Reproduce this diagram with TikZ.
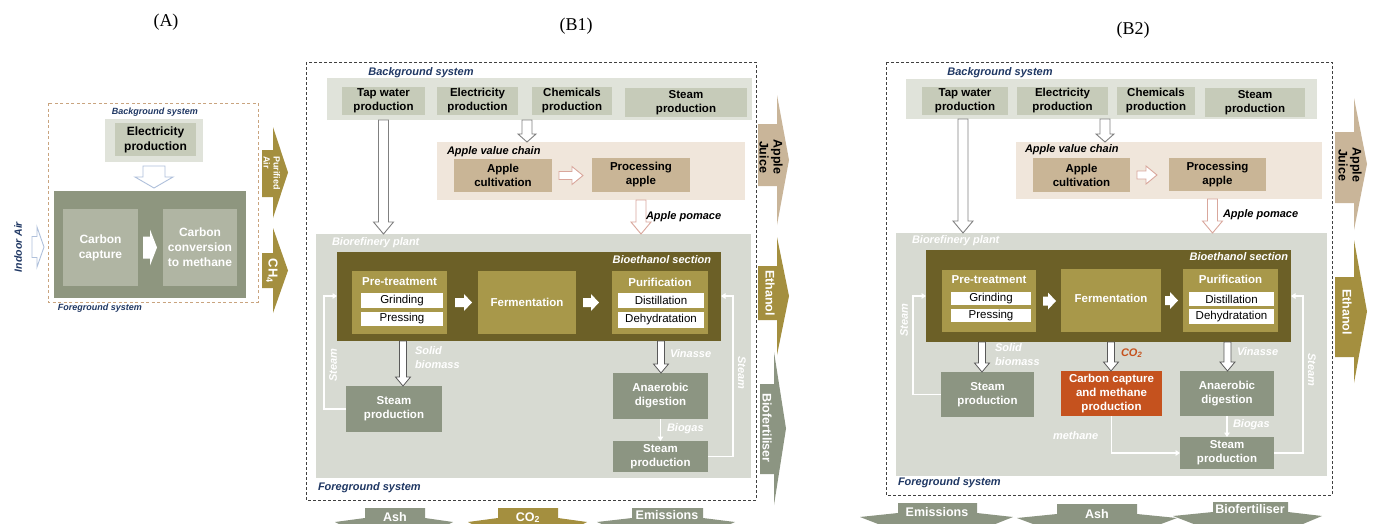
\documentclass[tikz,border=0pt]{standalone}
\usepackage{fontspec}
\setmainfont{Liberation Sans}
\newfontfamily\titlefont{Liberation Serif}
\usetikzlibrary{arrows.meta,calc}

\definecolor{navy}{HTML}{203864}
\definecolor{bgout}{HTML}{E0E3DA}
\definecolor{bgin}{HTML}{C6CBB9}
\definecolor{avc}{HTML}{F0E6DB}
\definecolor{tanc}{HTML}{C9B596}
\definecolor{plantc}{HTML}{D7DAD2}
\definecolor{bioeth}{HTML}{6C6027}
\definecolor{olivec}{HTML}{A8984A}
\definecolor{ggreen}{HTML}{8C9582}
\definecolor{ccap}{HTML}{C5521E}
\definecolor{aolive}{HTML}{A48F3F}
\definecolor{ajuice}{HTML}{C9B599}
\definecolor{fgAc}{HTML}{8E967F}
\definecolor{inA}{HTML}{B0B5A3}
\definecolor{hgray}{HTML}{808080}
\definecolor{hred}{HTML}{D9A79C}
\definecolor{hblue}{HTML}{AFC0DB}
\definecolor{dashA}{HTML}{C9A47F}

\newcommand\bx[7]{\node[#6, minimum width={(#4)-(#2)}, minimum height={(#5)-(#3)}] (#1) at ({((#2)+(#4))/2},{((#3)+(#5))/2}) {#7};}
\newcommand\vdarrow[6]{\path[#1] let \p1=(#2), \p2=(#3) in (\x1-#4,\y1) -- (\x1-#4,\y2+#6) -- (\x1-#5,\y2+#6) -- (\x1,\y2) -- (\x1+#5,\y2+#6) -- (\x1+#4,\y2+#6) -- (\x1+#4,\y1) -- cycle;}
\newcommand\hrarrow[6]{\path[#1] let \p1=(#2), \p2=(#3) in (\x1,\y1+#4) -- (\x2-#6,\y1+#4) -- (\x2-#6,\y1+#5) -- (\x2,\y1) -- (\x2-#6,\y1-#5) -- (\x2-#6,\y1-#4) -- (\x1,\y1-#4) -- cycle;}
\newcommand\rarr[8]{\fill[#1] (#2,#7) -- (#3,#7) -- (#3,#5) -- (#4,{((#5)+(#6))/2}) -- (#3,#6) -- (#3,#8) -- (#2,#8) -- cycle;}
\newcommand\barr[8]{\fill[#1] (#2,#4) -- (#3,#4) -- (#3,#5) -- (#7,#8) -- ({((#2)+(#3))/2},{(#8)+30}) -- (#6,#8) -- (#2,#5) -- cycle;}

\tikzset{
  every node/.style={inner sep=0pt, outer sep=0pt},
  bt/.style={font=\fontsize{11.5}{14}\selectfont\bfseries, align=center},
  btA/.style={font=\fontsize{12}{15}\selectfont\bfseries, align=center},
  bgi/.style={bt, fill=bgin, text=black},
  bgo/.style={fill=bgout},
  tanb/.style={bt, fill=tanc, text=black},
  oliveb/.style={bt, fill=olivec, text=white},
  greenb/.style={bt, fill=ggreen, text=white},
  whb/.style={fill=white, text=black, font=\fontsize{11.5}{13}\selectfont},
  lab/.style={font=\fontsize{11}{14}\selectfont\bfseries\itshape},
  navylab/.style={lab, text=navy},
  whlab/.style={lab, text=white},
  arlab/.style={font=\fontsize{12.5}{14}\selectfont\bfseries, align=center},
  hollowg/.style={draw=hgray, fill=white, line width=0.9pt},
  hollowr/.style={draw=hred, fill=white, line width=0.9pt},
  hollowb/.style={draw=hblue, fill=white, line width=0.9pt},
  wout/.style={draw=black!65, fill=white, line width=0.8pt},
  wfill/.style={fill=white},
  wline/.style={draw=white, line width=1.5pt, -{Triangle[length=4.5pt,width=5.5pt]}},
  dboxB/.style={draw=black!75, line width=0.9pt, dash pattern=on 3pt off 2pt},
  dboxA/.style={draw=dashA, line width=0.9pt, dash pattern=on 3pt off 2.5pt},
  ttl/.style={font=\titlefont\fontsize{18}{20}\selectfont}
}

\begin{document}
\begin{tikzpicture}[x=1pt,y=-1pt]
\useasboundingbox (0,0) rectangle (1377,523);
\clip (0,0) rectangle (1377,523);
\fill[white] (0,0) rectangle (1377,523);

% ---------------- titles
\node[ttl] (tA) at (166,22) {(A)};
\node[ttl] (tB1) at (576,26) {(B1)};
\node[ttl] (tB2) at (1133,30) {(B2)};

% ================= Panel A
\draw[dboxA] (48,103) rectangle (258,302);
\node[navylab, font=\fontsize{9}{11}\selectfont\bfseries\itshape] (bgA) at (155,112) {Background system};
\bx{elecAo}{105}{119}{203}{162}{bgo}{}
\bx{elecA}{115}{123}{196}{156}{btA, fill=bgin, text=black}{Electricity\\production}
\bx{fgA}{54}{191}{246}{298}{fill=fgAc}{}
\vdarrow{hollowb}{[yshift=-4pt]elecAo.south}{[yshift=3pt]fgA.north}{11pt}{19pt}{11pt}
\bx{capA}{63}{209}{138}{286}{btA, fill=inA, text=white}{Carbon\\capture}
\bx{convA}{163}{209}{237}{286}{btA, fill=inA, text=white}{Carbon\\conversion\\to methane}
\hrarrow{wfill}{[xshift=5pt]capA.east}{[xshift=-6pt]convA.west}{11pt}{18pt}{7pt}
\node[navylab, font=\fontsize{9}{11}\selectfont\bfseries\itshape] (fgsA) at (100,308) {Foreground system};
\node[navylab, font=\fontsize{10.5}{12}\selectfont\bfseries\itshape, rotate=90] (inAir) at (18,247) {Indoor Air};
\coordinate (inAs) at (32,247);
\hrarrow{hollowb}{inAs}{[xshift=-19pt]capA.west}{10.5pt}{20pt}{7pt}
\rarr{fill=aolive}{262}{273}{288}{127}{218}{150}{197}
\node[rotate=-90, text=white, font=\fontsize{9}{10}\selectfont\bfseries, align=left] (pAir) at (272,173) {Purified\\Air};
\rarr{fill=aolive}{262}{273}{288}{228}{313}{253}{288}
\node[rotate=-90, text=white, font=\fontsize{13}{14}\selectfont\bfseries] (ch4) at (272,271) {CH\textsubscript{4}};

% ================= Panel B1
\draw[dboxB] (306,62) rectangle (756,500);
\node[navylab] (bg1l) at (421,73) {Background system};
\bx{bg1}{327}{78}{752}{120}{bgo}{}
\bx{tap1}{342}{87}{425}{115}{bgi}{Tap water\\production}
\bx{elec1}{437}{87}{518}{115}{bgi}{Electricity\\production}
\bx{chem1}{532}{87}{612}{115}{bgi}{Chemicals\\production}
\bx{stm1}{625}{88}{747}{117}{bgi}{Steam\\production}
\bx{avc1}{437}{142}{745}{200}{fill=avc}{}
\node[lab, anchor=west] (avc1l) at (447,152) {Apple value chain};
\bx{cult1}{454}{159}{552}{192}{tanb}{Apple\\cultivation}
\bx{proc1}{592}{158}{690}{192}{tanb}{Processing\\apple}
\bx{plant1}{316}{234}{751}{478}{fill=plantc}{}
\node[whlab, anchor=west] (plant1l) at (332,243) {Biorefinery plant};
\coordinate (e1) at (527,120);
\vdarrow{hollowg}{e1}{e1 |- avc1.north}{5pt}{9pt}{8pt}
\vdarrow{hollowg}{tap1.south |- bg1.south}{tap1.south |- plant1.north}{5pt}{10pt}{12pt}
\hrarrow{hollowr}{[xshift=7pt]cult1.east}{[xshift=-9pt]proc1.west}{4pt}{9pt}{11pt}
\vdarrow{hollowr}{proc1.south |- avc1.south}{proc1.south |- plant1.north}{5pt}{10pt}{12pt}
\node[lab, anchor=west] (pom1) at (646,217) {Apple pomace};
\bx{bioeth1}{337}{252}{721}{341}{fill=bioeth}{}
\node[whlab, anchor=east] (bioeth1l) at (711,260) {Bioethanol section};
\bx{pre1}{352}{271}{447}{334}{fill=olivec}{}
\node[bt, text=white] (pre1t) at (399.5,282) {Pre-treatment};
\bx{grind1}{361}{293}{443}{308}{whb}{Grinding}
\bx{press1}{361}{312}{443}{326}{whb}{Pressing}
\bx{ferm1}{478}{271}{576}{334}{oliveb}{Fermentation}
\bx{pur1}{612}{271}{708}{334}{fill=olivec}{}
\node[bt, text=white] (pur1t) at (660,282) {Purification};
\bx{dist1}{618}{293}{704}{308}{whb}{Distillation}
\bx{dehy1}{618}{312}{704}{328}{whb}{Dehydratation}
\hrarrow{wfill}{[xshift=8pt]pre1.east}{[xshift=-6pt]ferm1.west}{4.5pt}{8.5pt}{8pt}
\hrarrow{wfill}{[xshift=7pt]ferm1.east}{[xshift=-13pt]pur1.west}{4.5pt}{8.5pt}{8pt}
\bx{steamA1}{346}{386}{442}{432}{greenb}{Steam\\production}
\bx{anaer1}{613}{373}{708}{419}{greenb}{Anaerobic\\digestion}
\bx{steamB1}{613}{441}{708}{472}{greenb}{Steam\\production}
\vdarrow{wout}{[xshift=3.5pt]pre1.south |- bioeth1.south}{[xshift=3.5pt]pre1.south |- steamA1.north}{3.5pt}{7.5pt}{9pt}
\vdarrow{wout}{[xshift=1pt]pur1.south |- bioeth1.south}{[xshift=1pt]pur1.south |- anaer1.north}{3.5pt}{7.5pt}{9pt}
\node[whlab, anchor=west, align=left] (sb1) at (415,358) {Solid\\biomass};
\node[whlab, anchor=west] (vin1) at (670,354) {Vinasse};
\draw[wline] (anaer1.south) -- (steamB1.north);
\node[whlab, anchor=west] (bgs1) at (667,429) {Biogas};
\coordinate (sl1) at (324,296);
\draw[wline] (steamA1.west) -| (sl1) -- (sl1 -| bioeth1.west);
\coordinate (sr1) at (733,296);
\draw[wline] (steamB1.east) -| (sr1) -- (sr1 -| bioeth1.east);
\node[whlab, rotate=90] (st1l) at (333,365) {Steam};
\node[whlab, rotate=-90] (st1r) at (742,373) {Steam};
\node[navylab, anchor=west] (fg1) at (318,488) {Foreground system};
% outputs B1
\rarr{fill=ajuice}{758}{777}{789}{95}{225}{124}{186}
\node[arlab, rotate=-90, text=black] (aj1) at (771,157) {Apple\\Juice};
\rarr{fill=aolive}{758}{777}{789}{237}{355}{266}{320}
\node[arlab, rotate=-90, text=white] (et1) at (770,293) {Ethanol};
\rarr{fill=ggreen}{760}{774}{786}{352}{505}{384}{474}
\node[arlab, rotate=-90, text=white] (bf1) at (767,428) {Biofertiliser};
\barr{fill=ggreen}{365}{425}{508}{518}{335}{453}{522}
\node[arlab, text=white, anchor=base] (ash1) at (395,521) {Ash};
\barr{fill=aolive}{498}{558}{508}{518}{468}{587}{522}
\node[arlab, text=white, anchor=base] (co21) at (528,521) {CO\textsubscript{2}};
\barr{fill=ggreen}{632}{703}{508}{518}{597}{735}{522}
\node[arlab, text=white, anchor=base] (em1) at (667,519) {Emissions};

% ================= Panel B2
\draw[dboxB] (886,62) rectangle (1332,495);
\node[navylab] (bg2l) at (1000,73) {Background system};
\bx{bg2}{906}{79}{1317}{119}{bgo}{}
\bx{tap2}{922}{87}{1008}{115}{bgi}{Tap water\\production}
\bx{elec2}{1017}{87}{1108}{115}{bgi}{Electricity\\production}
\bx{chem2}{1117}{87}{1195}{115}{bgi}{Chemicals\\production}
\bx{stm2}{1205}{88}{1305}{117}{bgi}{Steam\\production}
\bx{avc2}{1016}{142}{1322}{199}{fill=avc}{}
\node[lab, anchor=west] (avc2l) at (1025,150) {Apple value chain};
\bx{cult2}{1033}{158}{1130}{192}{tanb}{Apple\\cultivation}
\bx{proc2}{1169}{158}{1266}{191}{tanb}{Processing\\apple}
\bx{plant2}{896}{233}{1327}{476}{fill=plantc}{}
\node[whlab, anchor=west] (plant2l) at (912,241) {Biorefinery plant};
\coordinate (e2) at (1105,119);
\vdarrow{hollowg}{e2}{e2 |- avc2.north}{5pt}{9pt}{8pt}
\vdarrow{hollowg}{[xshift=-2pt]tap2.south |- bg2.south}{[xshift=-2pt]tap2.south |- plant2.north}{5pt}{10pt}{12pt}
\hrarrow{hollowr}{[xshift=7pt]cult2.east}{[xshift=-12pt]proc2.west}{4pt}{9pt}{11pt}
\vdarrow{hollowr}{[xshift=-5pt]proc2.south |- avc2.south}{[xshift=-5pt]proc2.south |- plant2.north}{5pt}{10pt}{12pt}
\node[lab, anchor=west] (pom2) at (1223,215) {Apple pomace};
\bx{bioeth2}{926}{250}{1291}{342}{fill=bioeth}{}
\node[whlab, anchor=east] (bioeth2l) at (1288,257) {Bioethanol section};
\bx{pre2}{942}{270}{1036}{332}{fill=olivec}{}
\node[bt, text=white] (pre2t) at (989,280) {Pre-treatment};
\bx{grind2}{951}{292}{1031}{305}{whb}{Grinding}
\bx{press2}{951}{309}{1031}{322}{whb}{Pressing}
\bx{ferm2}{1061}{269}{1161}{332}{fill=olivec}{}
\node[bt, text=white] (ferm2t) at (1111,298) {Fermentation};
\bx{pur2}{1183}{269}{1278}{332}{fill=olivec}{}
\node[bt, text=white] (pur2t) at (1230.5,279) {Purification};
\bx{dist2}{1189}{292}{1274}{306}{whb}{Distillation}
\bx{dehy2}{1189}{309}{1274}{324}{whb}{Dehydratation}
\hrarrow{wfill}{[xshift=7pt]pre2.east}{[xshift=-5pt]ferm2.west}{4.5pt}{8.5pt}{8pt}
\hrarrow{wfill}{[xshift=4pt]ferm2.east}{[xshift=-5pt]pur2.west}{4.5pt}{8.5pt}{8pt}
\bx{steamA2}{941}{372}{1034}{417}{greenb}{Steam\\production}
\bx{cc2}{1061}{371}{1162}{416}{bt, fill=ccap, text=white}{Carbon capture\\and methane\\production}
\bx{anaer2}{1180}{371}{1274}{416}{greenb}{Anaerobic\\digestion}
\bx{steamB2}{1180}{437}{1274}{469}{greenb}{Steam\\production}
\vdarrow{wout}{[xshift=-7pt]pre2.south |- bioeth2.south}{[xshift=-7pt]pre2.south |- steamA2.north}{3.5pt}{7.5pt}{9pt}
\vdarrow{wout}{ferm2.south |- bioeth2.south}{ferm2.south |- cc2.north}{3.5pt}{7.5pt}{9pt}
\vdarrow{wout}{[xshift=-3pt]pur2.south |- bioeth2.south}{[xshift=-3pt]pur2.south |- anaer2.north}{3.5pt}{7.5pt}{9pt}
\node[whlab, anchor=west, align=left] (sb2) at (995,355) {Solid\\biomass};
\node[lab, text=ccap, anchor=west] (co2l) at (1121,353) {CO\textsubscript{2}};
\node[whlab, anchor=west] (vin2) at (1237,352) {Vinasse};
\draw[wline] (anaer2.south) -- (steamB2.north);
\node[whlab, anchor=west] (bgs2) at (1233,425) {Biogas};
\draw[wline] (cc2.south) |- (steamB2.west);
\node[whlab, anchor=west] (meth2) at (1053,436) {methane};
\coordinate (sl2) at (913,296);
\draw[wline] (steamA2.west) -| (sl2) -- (sl2 -| bioeth2.west);
\coordinate (sr2) at (1303,296);
\draw[wline] (steamB2.east) -| (sr2) -- (sr2 -| bioeth2.east);
\node[whlab, rotate=90] (st2l) at (904,320) {Steam};
\node[whlab, rotate=-90] (st2r) at (1312,370) {Steam};
\node[navylab, anchor=west] (fg2) at (898,483) {Foreground system};
% outputs B2
\rarr{fill=ajuice}{1335}{1354}{1367}{98}{230}{132}{203}
\node[arlab, rotate=-90, text=black] (aj2) at (1350,165) {Apple\\Juice};
\rarr{fill=aolive}{1335}{1354}{1367}{240}{383}{277}{357}
\node[arlab, rotate=-90, text=white] (et2) at (1347,312) {Ethanol};
\barr{fill=ggreen}{898}{977}{503}{513}{860}{1013}{517}
\node[arlab, text=white, anchor=base] (em2) at (937,516) {Emissions};
\barr{fill=ggreen}{1057}{1137}{504}{514}{1017}{1177}{518}
\node[arlab, text=white, anchor=base] (ash2) at (1097,518) {Ash};
\barr{fill=ggreen}{1213}{1288}{502}{512}{1173}{1322}{516}
\node[arlab, text=white, anchor=base] (bf2) at (1250,513) {Biofertiliser};
\end{tikzpicture}
\end{document}
